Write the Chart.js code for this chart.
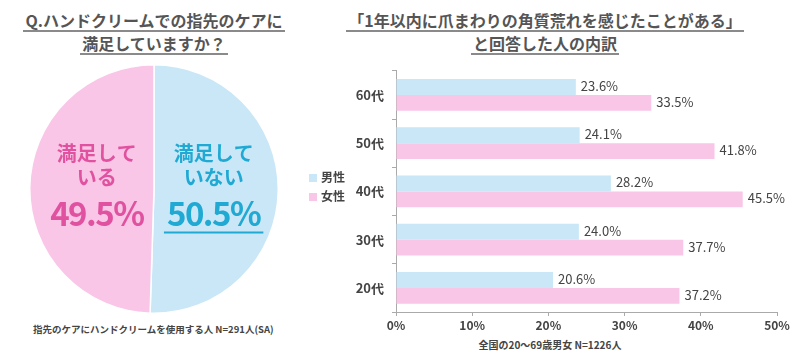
<!DOCTYPE html>
<html>
<head>
<meta charset="utf-8">
<script src="https://cdn.jsdelivr.net/npm/chart.js@4/dist/chart.umd.min.js"></script>
<style>
  html, body { margin:0; padding:0; background:#fff; }
  body { width:807px; height:356px; position:relative; overflow:hidden;
         font-family:"Noto Sans CJK JP","Noto Sans",sans-serif; color:#444; }
  .title { position:absolute; text-align:center; font-size:16px; font-weight:bold; color:#555; line-height:20px; }
  .title span { display:inline-block; border-bottom:2px solid #8a8a8a; padding:0 2px; line-height:19px; margin-bottom:1px; }
  .note { position:absolute; font-size:10px; font-weight:bold; color:#444; white-space:nowrap; }
  #pieBox { position:absolute; left:29px; top:64px; width:250px; height:250px; }
  #barBox { position:absolute; left:290px; top:55px; width:510px; height:280px; }
  .leg { position:absolute; font-size:12px; font-weight:bold; color:#444; white-space:nowrap; line-height:14px; }
  .leg i { display:inline-block; width:8px; height:8px; margin-right:4px; vertical-align:0px; }
</style>
</head>
<body>
<div class="title" style="left:0;width:308px;top:10px;"><span>Q.ハンドクリームでの指先のケアに</span><br><span>満足していますか？</span></div>
<div class="title" style="left:330px;width:430px;top:10px;"><span>「1年以内に爪まわりの角質荒れを感じたことがある」</span><br><span>と回答した人の内訳</span></div>
<div id="pieBox"><canvas id="pie" width="250" height="250"></canvas></div>
<div id="barBox"><canvas id="bar" width="510" height="280"></canvas></div>
<div class="leg" style="left:309px;top:170px;"><i style="background:#c9e7f7"></i>男性</div>
<div class="leg" style="left:309px;top:189px;"><i style="background:#f9c6e8"></i>女性</div>
<div class="note" style="left:33px;top:322px;font-size:9.5px;">指先のケアにハンドクリームを使用する人 N=291人(SA)</div>
<div class="note" style="left:440px;width:220px;text-align:center;top:337px;">全国の20～69歳男女 N=1226人</div>
<script>
// ---- data ----
const pieLabels = ["満足していない", "満足している"];
const pieLines = [["満足して", "いない"], ["満足して", "いる"]];
const pieValues = [50.5, 49.5];
const pieColors = ["#c9e7f7", "#f9c6e7"];
const pieTextColors = ["#1fa9d3", "#e0529f"];

const ageGroups = ["60代", "50代", "40代", "30代", "20代"];
const maleValues = [23.6, 24.1, 28.2, 24.0, 20.6];
const femaleValues = [33.5, 41.8, 45.5, 37.7, 37.2];
const xTicks = [0, 10, 20, 30, 40, 50];
const seriesNames = ["男性", "女性"];
const barColors = ["#c9e7f7", "#f9c6e8"];

const FONT = '"Noto Sans CJK JP","Noto Sans",sans-serif';

// ---- pie labels plugin ----
const pieLabelPlugin = {
  id: 'pieLabels',
  afterDatasetsDraw(chart) {
    const ctx = chart.ctx;
    const meta = chart.getDatasetMeta(0);
    meta.data.forEach((arc, i) => {
      const r = arc.outerRadius;
      const cx = arc.x + (i === 0 ? 0.48 : -0.46) * r;
      const cy = arc.y;
      ctx.save();
      ctx.fillStyle = pieTextColors[i];
      ctx.textAlign = 'center';
      ctx.textBaseline = 'middle';
      ctx.font = 'bold 20px ' + FONT;
      ctx.fillText(pieLines[i][0], cx, cy - 0.29 * r);
      ctx.fillText(pieLines[i][1], cx, cy - 0.09 * r);
      ctx.font = 'bold 33px ' + FONT;
      ctx.letterSpacing = '-1.5px';
      const txt = pieValues[i].toFixed(1) + '%';
      ctx.fillText(txt, cx, cy + 0.20 * r);
      if (i === 0) {
        const w = ctx.measureText(txt).width;
        ctx.strokeStyle = pieTextColors[i];
        ctx.lineWidth = 2;
        ctx.beginPath();
        ctx.moveTo(cx - w / 2 - 3, cy + 0.35 * r);
        ctx.lineTo(cx + w / 2 + 3, cy + 0.35 * r);
        ctx.stroke();
      }
      ctx.restore();
    });
  }
};

new Chart(document.getElementById('pie'), {
  type: 'pie',
  data: {
    labels: pieLabels,
    datasets: [{ data: pieValues, backgroundColor: pieColors, borderColor: '#ffffff', borderWidth: 1.5 }]
  },
  options: {
    responsive: false,
    animation: false,
    layout: { padding: 0 },
    plugins: { legend: { display: false }, tooltip: { enabled: false } }
  },
  plugins: [pieLabelPlugin]
});

// ---- bar value labels plugin ----
const barLabelPlugin = {
  id: 'barLabels',
  afterDatasetsDraw(chart) {
    const ctx = chart.ctx;
    ctx.save();
    ctx.font = '13px ' + FONT;
    ctx.fillStyle = '#444';
    ctx.textAlign = 'left';
    ctx.textBaseline = 'middle';
    chart.data.datasets.forEach((ds, di) => {
      chart.getDatasetMeta(di).data.forEach((bar, i) => {
        ctx.fillText(ds.data[i].toFixed(1) + '%', bar.x + 5, bar.y - 1);
      });
    });
    ctx.restore();
  }
};

new Chart(document.getElementById('bar'), {
  type: 'bar',
  data: {
    labels: ageGroups,
    datasets: [
      { label: seriesNames[0], data: maleValues, backgroundColor: barColors[0] },
      { label: seriesNames[1], data: femaleValues, backgroundColor: barColors[1] }
    ]
  },
  options: {
    indexAxis: 'y',
    responsive: false,
    animation: false,
    layout: { padding: { top: 12, right: 23, left: 0, bottom: 0 } },
    datasets: { bar: { categoryPercentage: 0.66, barPercentage: 1.0 } },
    scales: {
      x: {
        min: 0, max: 50,
        afterFit(scale) { scale.height = 23; },
        afterBuildTicks(scale) { scale.ticks = xTicks.map(v => ({ value: v })); },
        grid: { drawOnChartArea: false, tickLength: 4, color: '#aaa' },
        border: { color: '#aaa', width: 1 },
        ticks: { color: '#444', padding: 2, font: { family: FONT, size: 12, weight: 'bold' },
                 callback: v => v + '%' }
      },
      y: {
        afterFit(scale) { scale.width = 106; },
        grid: { drawOnChartArea: false, offset: true, tickLength: 4, color: '#aaa' },
        border: { color: '#aaa', width: 1 },
        ticks: { color: '#444', padding: 8, font: { family: FONT, size: 13, weight: 'bold' } }
      }
    },
    plugins: { legend: { display: false }, tooltip: { enabled: false } }
  },
  plugins: [barLabelPlugin]
});
</script>
</body>
</html>
